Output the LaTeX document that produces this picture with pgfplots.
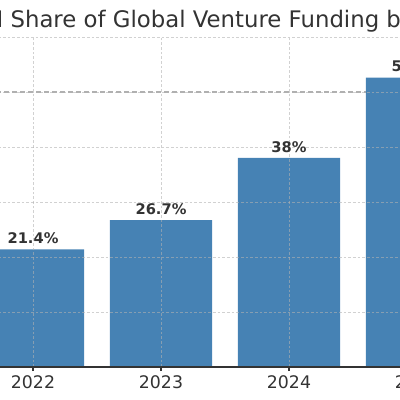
\documentclass[border=0pt]{standalone}
\usepackage{pgfplots}
\pgfplotsset{compat=1.18}
\usepackage{fontspec}
\setmainfont{DejaVu Sans}
\definecolor{barblue}{HTML}{4682B4}
\definecolor{txt}{HTML}{333333}
\definecolor{refgray}{HTML}{B0B0B0}
\begin{document}
\begin{tikzpicture}
% the reference is a crop of a wider figure: keep only that window
\useasboundingbox (-24.75pt,-24.75pt) rectangle (275.25pt,275.25pt);
\clip (-24.75pt,-24.75pt) rectangle (275.25pt,275.25pt);
\begin{axis}[
    at={(0pt,0pt)}, anchor=origin,
    x=96pt, y=4.125pt,
    xmin=-0.6, xmax=3.6, ymin=0, ymax=60,
    enlargelimits=false,
    clip=false,
    axis on top,
    axis x line*=bottom, axis y line*=left,
    axis line style={draw=txt, line width=1pt},
    xtick={0,1,2,3},
    xticklabels={2022,2023,2024,2025},
    ytick={0,10,...,60},
    tick align=inside,
    major tick length=3pt,
    tick style={draw=txt, line width=0.8pt},
    xmajorgrids, ymajorgrids,
    grid style={draw=black!30, opacity=0.6, line width=0.6pt, dash pattern=on 2pt off 1.5pt},
    /pgf/number format/assume math mode=true,
    xticklabel style={font=\fontsize{13}{15}\selectfont, text=txt, inner sep=0pt, yshift=-3.6pt},
    yticklabel style={font=\fontsize{13}{15}\selectfont, text=txt},
    ybar, bar width=0.8,
    nodes near coords,
    point meta=explicit symbolic,
    nodes near coords style={font=\fontsize{11}{13}\selectfont\bfseries, text=txt, anchor=base, yshift=4.3pt, inner sep=0pt},
]
\addplot[sharp plot, draw=refgray, line width=1.1pt, dash pattern=on 3.75pt off 2.25pt, forget plot, nodes near coords={}] coordinates {(-0.6,50) (3.6,50)};
\addplot[fill=barblue, draw=none] coordinates {
    (0,21.4) [21.4\%]
    (1,26.7) [26.7\%]
    (2,38)   [38\%]
    (3,52.6) [52.6\%]
};
\node[anchor=base west, inner sep=0pt, text=txt, font=\fontsize{17.1}{20}\selectfont]
    at (axis cs:-0.408,61.8) {AI Share of Global Venture Funding by Year};
\end{axis}
\end{tikzpicture}
\end{document}
